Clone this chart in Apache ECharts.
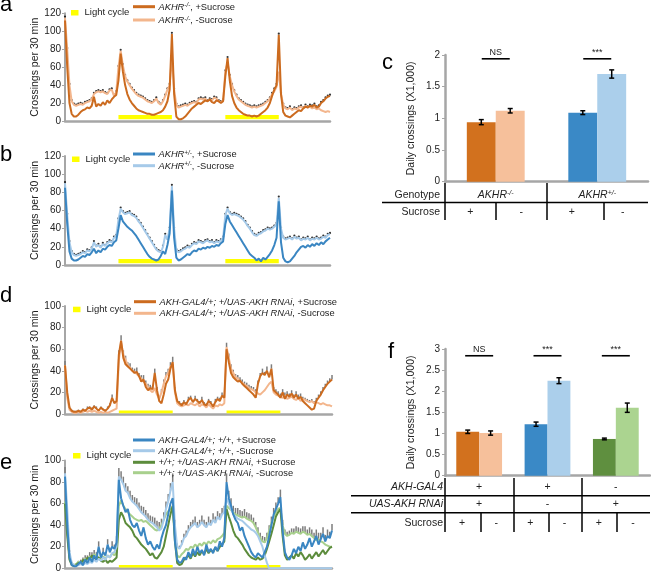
<!DOCTYPE html>
<html>
<head>
<meta charset="utf-8">
<script src="https://cdn.jsdelivr.net/npm/echarts@6/dist/echarts.min.js"></script>
<style>
  html, body { margin: 0; padding: 0; background: #fff; }
  #main { width: 651px; height: 576px; }
</style>
</head>
<body>
<div id="main"></div>
<script>
window.addEventListener('load', () => {

// ---- data: 30-min bins, light phase ----
const lightCycle = [[24, 48], [72, 96]];

// a: AKHR-/-
const aPlus = [112,60,20,8,5,5,7,10,12,13, 15,14,17,27,16,19,17,21,18,23, 20,24,27,29,45,75,55,40,30,24,
  20,17,14,12,11,10,9,8,8,7, 7,8,9,10,12,16,22,35,97,30, 5,2,2,3,5,8,11,14,16,18,
  20,19,21,23,22,24,21,20,23,22, 20,22,50,70,45,28,20,15,12,10, 8,7,6,6,5,6,5,6,8,10,
  12,15,20,28,35,40,96,30,10,6, 5,4,6,8,10,12,11,14,16,15, 17,16,18,15,16,20,22,25,27,28];
const aMinus = [115,80,40,22,18,17,18,19,18,20, 21,22,24,30,32,33,32,33,31,30, 34,35,28,32,60,78,62,50,44,40,
  36,33,30,28,27,26,24,22,21,20, 22,25,20,18,22,28,35,40,72,35, 18,15,16,17,18,17,19,20,21,20,
  24,25,24,25,22,24,23,26,25,22, 21,23,55,65,50,40,33,28,24,22, 20,18,17,16,15,16,15,16,17,18,
  20,22,25,30,33,38,55,30,18,14, 13,15,12,14,13,15,16,14,17,15, 16,14,15,13,14,12,11,10,11,10];

// b: AKHR+/-
const bPlus = [85,45,15,7,5,5,6,8,10,9, 12,11,14,18,13,16,14,18,17,20, 22,21,25,27,40,55,48,45,42,40,
  38,35,32,28,24,20,16,12,9,7, 6,5,6,10,15,12,22,35,82,30, 8,5,6,8,10,12,11,14,16,15,
  18,17,19,18,20,19,21,20,22,21, 24,26,45,55,48,44,40,36,32,28, 24,20,16,12,10,8,5,7,4,8,
  6,9,12,16,22,30,70,25,8,4, 3,4,7,10,14,17,20,21,19,22, 20,23,21,24,22,25,23,26,28,30];
const bMinus = [90,55,25,14,11,10,11,12,14,13, 16,15,18,25,20,22,19,23,21,24, 26,25,30,32,50,62,58,56,57,58,
  55,54,52,48,45,41,37,33,29,25, 21,17,15,14,20,33,28,40,87,40, 16,14,15,17,18,20,19,22,24,23,
  26,25,24,26,27,25,26,24,26,25, 27,30,55,62,57,55,56,55,54,52, 50,47,43,40,36,33,32,34,35,37,
  38,40,39,40,42,45,74,40,30,28, 29,30,28,31,29,30,27,29,28,30, 27,29,28,30,28,29,31,30,33,34];

// d: AKH-GAL4/+; +/UAS-AKH RNAi
const dPlus = [45,20,6,3,2,2,3,2,4,3, 5,6,4,7,5,3,6,4,3,5, 8,15,10,12,55,68,52,46,44,42,
  40,38,39,35,30,32,25,22,24,23, 38,22,12,10,18,28,32,42,48,22, 12,10,8,11,9,13,15,11,14,12,
  10,13,9,8,12,10,7,11,14,12, 17,15,60,48,38,34,32,30,31,28, 26,24,22,20,18,15,28,35,38,36,
  40,34,42,22,20,18,15,20,14,18, 16,19,15,18,14,16,12,10,8,6, 4,5,12,15,18,22,25,28,30,32];
const dMinus = [45,15,4,2,1,1,2,1,2,3, 2,3,2,3,2,1,2,1,2,1, 2,3,4,5,50,66,55,50,45,43,
  40,39,37,35,33,30,28,25,22,20, 24,18,14,20,28,35,38,44,46,20, 10,8,7,8,9,8,10,9,8,10,
  7,9,8,6,9,7,5,8,7,9, 8,10,62,52,42,38,34,33,30,29, 27,26,24,23,22,20,19,18,20,22,
  25,28,30,20,18,17,16,15,17,14, 15,16,14,13,15,12,14,13,12,11, 12,10,11,10,9,10,9,8,8,7];
const dSem = [4,3,1,1,1,1,1,1,1,1, 2,1,2,1,2,1,1,1,1,2, 2,3,2,3,4,5,4,4,3,4,
  3,3,4,3,3,4,3,3,3,3, 4,3,3,3,4,4,4,4,5,3, 2,2,2,2,2,3,2,2,3,2,
  2,3,2,2,2,2,2,3,2,3, 3,3,4,4,4,3,3,3,3,3, 3,3,3,3,3,3,3,3,4,3,
  4,3,4,3,3,3,3,3,3,3, 3,3,3,3,3,3,2,2,2,2, 2,2,3,3,3,3,3,3,3,4];

// e: controls
const eGalPlus = [85,40,10,3,2,2,4,6,3,8, 5,10,6,12,8,20,10,15,12,22, 15,20,18,24,82,65,58,52,55,45,
  40,38,42,35,30,38,28,22,25,20, 17,22,18,28,35,40,50,60,65,25, 8,5,6,10,8,15,10,18,12,20,
  14,17,12,22,15,18,14,20,16,25, 20,28,80,65,58,50,45,42,35,38, 30,25,20,15,12,10,14,12,10,15,
  20,30,40,50,55,60,66,35,15,10, 8,12,18,14,20,16,24,18,22,28, 20,25,30,22,27,32,25,30,28,35];
const eGalMinus = [88,55,15,5,3,2,3,4,3,5, 4,6,5,8,6,9,7,10,8,12, 10,14,15,20,85,82,78,72,70,65,
  62,60,58,55,52,50,48,45,43,42, 40,38,35,37,45,55,62,72,80,40, 20,18,22,28,30,35,38,40,42,38,
  40,43,40,38,42,40,45,42,48,45, 50,52,65,60,55,50,48,46,45,44, 42,40,38,36,35,33,30,25,20,12,
  5,0,0,0,0,0,0,0,0,0, 0,0,0,0,0,0,0,0,0,0, 0,0,0,0,0,0,0,0,0,0];
const eRnaiPlus = [60,30,8,3,2,3,5,4,8,6, 10,8,12,9,8,10,7,6,8,5, 7,6,8,10,45,52,48,42,40,38,
  35,30,28,25,22,20,18,15,12,14, 10,9,12,15,20,30,40,50,58,25, 5,3,4,8,10,12,9,14,11,15,
  12,16,13,18,14,17,15,19,16,20, 22,25,55,48,42,35,30,28,25,22, 18,15,12,10,9,8,10,8,9,12,
  18,25,32,40,48,52,55,30,12,8, 10,12,9,14,11,15,12,8,10,13, 9,12,15,11,14,17,13,16,19,20];
const eRnaiMinus = [62,35,10,4,3,4,6,5,7,9, 8,11,10,13,12,10,8,11,9,12, 10,14,12,15,58,63,58,55,52,50,
  48,46,45,44,45,43,44,42,40,38, 36,35,37,40,45,50,53,55,57,30, 12,10,13,15,18,17,20,19,22,20,
  23,21,24,22,25,23,26,24,27,28, 30,33,58,56,54,52,50,49,48,47, 48,46,45,44,42,38,33,28,25,24,
  28,35,42,48,52,55,56,40,32,30, 31,33,32,34,33,32,34,33,31,32, 30,28,26,27,25,24,22,21,20,20];
const eSem = [6,4,2,1,1,1,1,2,2,3, 2,4,3,4,3,5,3,4,3,5, 4,5,4,6,8,8,7,7,6,7,
  6,6,7,6,6,7,6,6,6,6, 7,6,6,6,7,7,7,7,8,5, 3,3,4,4,5,5,5,5,6,5,
  5,6,5,5,6,5,6,6,5,6, 6,6,8,7,7,6,6,7,6,6, 7,6,6,6,5,5,5,5,5,5,
  5,5,6,6,6,6,7,5,4,4, 4,4,5,5,5,5,5,6,5,6, 6,5,6,6,6,6,6,6,6,6];

// c: daily crossings (x1,000)
const cGenotype = ['AKHR-/-', 'AKHR+/-'];
const cSucrose = ['+', '-', '+', '-'];
const cPlus = [0.94, 1.09];
const cPlusErr = [0.04, 0.03];
const cMinus = [1.12, 1.70];
const cMinusErr = [0.035, 0.065];
const cSig = ['NS', '***'];

// f
const fGal4 = ['+', '+', '-'];
const fRnai = ['+', '-', '+'];
const fSucrose = ['+', '-', '+', '-', '+', '-'];
const fPlus = [1.04, 1.22, 0.87];
const fPlusErr = [0.04, 0.05, 0.02];
const fMinus = [1.01, 2.25, 1.61];
const fMinusErr = [0.05, 0.07, 0.11];
const fSig = ['NS', '***', '***'];

// legend names
const aNames = ['AKHR-/-, +Sucrose', 'AKHR-/-, -Sucrose'];
const bNames = ['AKHR+/-, +Sucrose', 'AKHR+/-, -Sucrose'];
const dNames = ['AKH-GAL4/+; +/UAS-AKH RNAi, +Sucrose', 'AKH-GAL4/+; +/UAS-AKH RNAi, -Sucrose'];
const eNames = ['AKH-GAL4/+; +/+, +Sucrose', 'AKH-GAL4/+; +/+, -Sucrose',
  '+/+; +/UAS-AKH RNAi, +Sucrose', '+/+; +/UAS-AKH RNAi, -Sucrose'];

/////////////////////////////////////////

const FF = '"Liberation Sans", Arial, sans-serif';
const TXT = '#222';
const AX = '#a6a6a6';
const COL = {
  orange: '#cc6b1f', peach: '#f3b68d', orangeBar: '#d2711e', peachBar: '#f6c09b',
  blue: '#3a86c2', ltblue: '#a6cae9', blueBar: '#3a89c6', ltblueBar: '#abcfeb',
  green: '#5c8c3c', ltgreen: '#a8d08d', greenBar: '#5f8f3f', ltgreenBar: '#abd490',
  yellow: '#ffff00'
};

const grids = [], xAxes = [], yAxes = [], series = [], graphics = [];

const gText = (x, y, text, font, align, extra) => {
  graphics.push({ type: 'text', z: 100, style: Object.assign({
    x: x, y: y, text: text, font: font, fill: TXT, textAlign: align || 'left', textVerticalAlign: 'middle'
  }, extra || {}) });
};
const gLine = (x1, y1, x2, y2, color, w) => {
  graphics.push({ type: 'line', z: 100, shape: { x1: x1, y1: y1, x2: x2, y2: y2 }, style: { stroke: color, lineWidth: w } });
};
const gRect = (x, y, w, h, color) => {
  graphics.push({ type: 'rect', z: 100, shape: { x: x, y: y, width: w, height: h }, style: { fill: color } });
};

const legRich = {
  i: { fontStyle: 'italic', fontSize: 9.3, fontFamily: FF, fill: TXT },
  s: { fontStyle: 'italic', fontSize: 6.3, fontFamily: FF, fill: TXT, verticalAlign: 'top' },
  n: { fontSize: 9.3, fontFamily: FF, fill: TXT }
};
const fmtName = (name) => {
  const k = name.lastIndexOf(', ');
  const g = name.slice(0, k), s = name.slice(k);
  const m = g.match(/^(AKHR)(.*)$/);
  const gp = m ? '{i|' + m[1] + '}{s|' + m[2] + '}' : '{i|' + g + '}';
  return gp + '{n|' + s + '}';
};

const addTs = (p) => {
  const gi = grids.length;
  grids.push(p.grid);
  const xi = xAxes.length, yi = yAxes.length;
  xAxes.push({
    type: 'value', gridIndex: gi, min: 0, max: 119,
    axisLine: { onZero: false, lineStyle: { color: AX, width: 2.5 } },
    axisTick: { show: false }, axisLabel: { show: false }, splitLine: { show: false }
  });
  yAxes.push({
    type: 'value', gridIndex: gi, min: 0, max: p.max, interval: 20,
    axisLine: { show: true, lineStyle: { color: AX, width: 2 } },
    axisTick: { show: true, length: 3, lineStyle: { color: AX } },
    axisLabel: { fontSize: 10, color: TXT, fontFamily: FF, margin: 4 },
    splitLine: { show: false },
    name: 'Crossings per 30 min', nameLocation: 'middle', nameGap: 23,
    nameTextStyle: { fontSize: 10.5, color: TXT, fontFamily: FF }
  });

  // light cycle bars
  series.push({
    type: 'custom', xAxisIndex: xi, yAxisIndex: yi, z: 1, silent: true,
    data: lightCycle.map(d => [d[0], d[1], 0]),
    encode: { x: [0, 1], y: 2 },
    renderItem: (params, api) => {
      const p1 = api.coord([api.value(0), 0]);
      const p2 = api.coord([api.value(1), 0]);
      return { type: 'rect', shape: { x: p1[0], y: p1[1] - p.barOff - p.barH, width: p2[0] - p1[0], height: p.barH },
        style: { fill: COL.yellow } };
    }
  });

  // error bars (grey, upward)
  if (p.sem) {
    const base = p.lines[0].data.map((v, i) => Math.max.apply(null, p.lines.map(l => l.data[i])));
    series.push({
      type: 'custom', xAxisIndex: xi, yAxisIndex: yi, z: 2, silent: true,
      data: base.map((v, i) => [i, v, v + p.sem[i]]),
      encode: { x: 0, y: [1, 2] },
      renderItem: (params, api) => {
        const lo = api.coord([api.value(0), api.value(1)]);
        const hi = api.coord([api.value(0), api.value(2)]);
        return { type: 'line', shape: { x1: lo[0], y1: lo[1], x2: hi[0], y2: hi[1] },
          style: { stroke: '#7d7d7d', lineWidth: 1.5 } };
      }
    });
  }

  // black dots (behind the lines)
  if (p.dots) {
    series.push({
      type: 'scatter', xAxisIndex: xi, yAxisIndex: yi, z: 2, silent: true,
      data: p.lines[0].data.map((v, i) => [i, Math.max.apply(null, p.lines.map(l => l.data[i])) + 1.3]),
      symbolSize: 2.2, itemStyle: { color: '#000' }
    });
  }

  // lines, last legend entry drawn first
  p.lines.slice().reverse().forEach((l, k) => {
    series.push({
      type: 'line', xAxisIndex: xi, yAxisIndex: yi, z: 3 + k,
      data: l.data.map((v, i) => [i, v]),
      symbol: 'none', lineStyle: { width: 2, color: l.color }, itemStyle: { color: l.color }
    });
  });

  // legend
  const L = p.leg;
  gRect(L.sq[0], L.sq[1], 7.5, 5.5, COL.yellow);
  gText(L.sq[0] + 13.5, L.sq[1] + 2.8, 'Light cycle', '9.5px ' + FF);
  p.lines.forEach((l, k) => {
    gLine(L.lineX, L.ys[k], L.lineX + 22, L.ys[k], l.color, 3);
    gText(L.lineX + 25.5, L.ys[k] + 0.5, fmtName(l.name), '9.3px ' + FF, 'left', { rich: legRich });
  });
};

const addBars = (p) => {
  const gi = grids.length;
  grids.push(p.grid);
  const xi = xAxes.length, yi = yAxes.length;
  p.rows.forEach((row, k) => {
    xAxes.push({
      type: 'category', gridIndex: gi, data: row, position: 'bottom',
      axisLine: k === 0 ? { show: true, lineStyle: { color: AX, width: 2.5 } } : { show: false },
      axisTick: { show: false }, splitLine: { show: false },
      axisLabel: {
        interval: 0, margin: p.margins[k], fontSize: 10.5, color: TXT, fontFamily: FF,
        formatter: (k === 0 && p.genotype) ? (v => '{i|AKHR}{s|' + v.slice(4) + '}') : '{value}',
        rich: {
          i: { fontStyle: 'italic', fontSize: 10.5, fontFamily: FF, color: TXT },
          s: { fontStyle: 'italic', fontSize: 7, fontFamily: FF, color: TXT, verticalAlign: 'top' }
        }
      }
    });
  });
  yAxes.push({
    type: 'value', gridIndex: gi, min: 0, max: p.max, interval: 0.5,
    axisLine: { show: true, lineStyle: { color: AX, width: 2.5 } },
    axisTick: { show: true, length: 3, lineStyle: { color: AX } },
    axisLabel: { fontSize: 10, color: TXT, fontFamily: FF, margin: 5 },
    splitLine: { show: false },
    name: 'Daily crossings (X1,000)', nameLocation: 'middle', nameGap: 28,
    nameTextStyle: { fontSize: 10.5, color: TXT, fontFamily: FF }
  });

  const gapFrac = p.gap / 100;
  [[p.plus, p.plusColors], [p.minus, p.minusColors]].forEach(([vals, cols]) => {
    series.push({
      type: 'bar', xAxisIndex: xi, yAxisIndex: yi, z: 2,
      barGap: '0%', barCategoryGap: p.gap + '%',
      data: vals.map((v, i) => ({ value: v, itemStyle: { color: cols[i] } }))
    });
  });

  [[p.plus, p.plusErr, -1], [p.minus, p.minusErr, 1]].forEach(([vals, errs, side]) => {
    series.push({
      type: 'custom', xAxisIndex: xi, yAxisIndex: yi, z: 5, silent: true,
      data: vals.map((v, i) => [i, v - errs[i], v + errs[i]]),
      encode: { x: 0, y: [1, 2] },
      renderItem: (params, api) => {
        const band = api.size([1, 0])[0];
        const bw = band * (1 - gapFrac) / 2;
        const lo = api.coord([api.value(0), api.value(1)]);
        const hi = api.coord([api.value(0), api.value(2)]);
        const x = lo[0] + side * bw / 2;
        const st = { stroke: '#000', lineWidth: 1.5 };
        return { type: 'group', children: [
          { type: 'line', shape: { x1: x, y1: lo[1], x2: x, y2: hi[1] }, style: st },
          { type: 'line', shape: { x1: x - 2.5, y1: lo[1], x2: x + 2.5, y2: lo[1] }, style: st },
          { type: 'line', shape: { x1: x - 2.5, y1: hi[1], x2: x + 2.5, y2: hi[1] }, style: st }
        ] };
      }
    });
  });

  // significance
  series.push({
    type: 'custom', xAxisIndex: xi, yAxisIndex: yi, z: 5, silent: true,
    data: p.sig.map((s, i) => [i, p.sigLevel]),
    encode: { x: 0, y: 1 },
    renderItem: (params, api) => {
      const c = api.coord([api.value(0), api.value(1)]);
      return { type: 'group', children: [
        { type: 'line', shape: { x1: c[0] - 14, y1: c[1], x2: c[0] + 14, y2: c[1] }, style: { stroke: '#000', lineWidth: 1.6 } },
        { type: 'text', style: { text: p.sig[params.dataIndex], x: c[0], y: c[1] - 1.5, textAlign: 'center',
          textVerticalAlign: 'bottom', font: '9px ' + FF, fill: TXT } }
      ] };
    }
  });
};

/////////////////////////////////////////

addTs({
  grid: { left: 65, top: 13.3, width: 265, height: 107.7 }, max: 120, dots: true, barH: 4.3, barOff: 1.7,
  lines: [{ data: aPlus, color: COL.orange, name: aNames[0] }, { data: aMinus, color: COL.peach, name: aNames[1] }],
  leg: { sq: [71, 10], lineX: 133, ys: [6.7, 20] }
});
addTs({
  grid: { left: 65, top: 156, width: 265, height: 109 }, max: 120, dots: true, barH: 4.3, barOff: 1.7,
  lines: [{ data: bPlus, color: COL.blue, name: bNames[0] }, { data: bMinus, color: COL.ltblue, name: bNames[1] }],
  leg: { sq: [72, 156.5], lineX: 133, ys: [154, 165.7] }
});
addTs({
  grid: { left: 65, top: 306, width: 267, height: 108 }, max: 100, sem: dSem, barH: 2.6, barOff: 0.8,
  lines: [{ data: dPlus, color: COL.orange, name: dNames[0] }, { data: dMinus, color: COL.peach, name: dNames[1] }],
  leg: { sq: [73, 306.7], lineX: 134, ys: [301.7, 313.3] }
});
addTs({
  grid: { left: 65, top: 460.5, width: 267, height: 107.8 }, max: 100, sem: eSem, barH: 2.6, barOff: 0.8,
  lines: [{ data: eGalPlus, color: COL.blue, name: eNames[0] }, { data: eGalMinus, color: COL.ltblue, name: eNames[1] },
    { data: eRnaiPlus, color: COL.green, name: eNames[2] }, { data: eRnaiMinus, color: COL.ltgreen, name: eNames[3] }],
  leg: { sq: [73, 453], lineX: 133, ys: [440, 450.7, 462.3, 472.7] }
});

addBars({
  grid: { left: 445, top: 55, width: 203, height: 126.7 }, max: 2, gap: 43, genotype: true,
  rows: [cGenotype, cSucrose], margins: [8, 25],
  plus: cPlus, plusErr: cPlusErr, plusColors: [COL.orangeBar, COL.blueBar],
  minus: cMinus, minusErr: cMinusErr, minusColors: [COL.peachBar, COL.ltblueBar],
  sig: cSig, sigLevel: 1.94
});
addBars({
  grid: { left: 445, top: 349, width: 205, height: 126.7 }, max: 3, gap: 33,
  rows: [fGal4, fRnai, fSucrose], margins: [6, 23, 41.5],
  plus: fPlus, plusErr: fPlusErr, plusColors: [COL.orangeBar, COL.blueBar, COL.greenBar],
  minus: fMinus, minusErr: fMinusErr, minusColors: [COL.peachBar, COL.ltblueBar, COL.ltgreenBar],
  sig: fSig, sigLevel: 2.84
});

// panel letters
[['a', 0, 4.9], ['b', 0, 155], ['c', 382, 63.4], ['d', 0, 296.4], ['e', 0, 463.4], ['f', 388, 352]].forEach(t => {
  gText(t[1], t[2], t[0], '22px ' + FF, 'left', { fill: '#000' });
});

// table under c
gText(440, 195, 'Genotype', '10.5px ' + FF, 'right');
gText(440, 212.3, 'Sucrose', '10.5px ' + FF, 'right');
gLine(445, 183, 445, 220, '#000', 1.5);
gLine(547, 183, 547, 220, '#000', 1.5);
gLine(382, 202.5, 648, 202.5, '#000', 1.5);
gLine(496, 203, 496, 220, '#000', 1.5);
gLine(604, 203, 604, 220, '#000', 1.5);

// table under f
gText(443, 487.3, 'AKH-GAL4', 'italic 10.5px ' + FF, 'right');
gText(443, 504.3, 'UAS-AKH RNAi', 'italic 10.5px ' + FF, 'right');
gText(443, 522.7, 'Sucrose', '10.5px ' + FF, 'right');
gLine(445, 478, 445, 532, '#000', 1.5);
gLine(514, 478, 514, 532, '#000', 1.5);
gLine(582, 478, 582, 532, '#000', 1.5);
gLine(351, 495.7, 650, 495.7, '#000', 1.5);
gLine(351, 512.7, 650, 512.7, '#000', 1.5);
gLine(481, 512.7, 481, 532, '#000', 1.5);
gLine(549, 512.7, 549, 532, '#000', 1.5);
gLine(617, 512.7, 617, 532, '#000', 1.5);

const chart = echarts.init(document.getElementById('main'), null, { renderer: 'canvas' });
chart.setOption({
  animation: false,
  backgroundColor: '#fff',
  textStyle: { fontFamily: FF },
  grid: grids,
  xAxis: xAxes,
  yAxis: yAxes,
  series: series,
  graphic: graphics
});

});
</script>
</body>
</html>
